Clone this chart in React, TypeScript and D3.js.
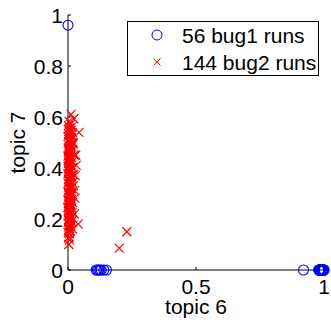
import React from "react";
import * as d3 from "d3";

const xTicks = [0, 0.5, 1];
const xTickLabels = ["0", "0.5", "1"];
const yTicks = [0, 0.2, 0.4, 0.6, 0.8, 1];
const yTickLabels = ["0", "0.2", "0.4", "0.6", "0.8", "1"];

const legendLabels = ["56 bug1 runs", "144 bug2 runs"];

// bug1 runs (blue circles) [topic6, topic7]
const bug1: [number, number][] = [
  [0.0, 0.96],
  [0.11, 0], [0.115, 0], [0.12, 0], [0.125, 0], [0.13, 0], [0.14, 0], [0.15, 0],
  [0.92, 0],
  [0.98, 0], [0.982, 0], [0.984, 0], [0.985, 0], [0.986, 0], [0.987, 0], [0.988, 0],
  [0.989, 0], [0.99, 0], [0.991, 0], [0.992, 0], [0.993, 0], [0.994, 0], [0.995, 0],
  [0.996, 0], [0.997, 0], [0.998, 0], [0.999, 0], [1.0, 0], [0.983, 0], [0.9905, 0],
  [0.9915, 0], [0.9925, 0], [0.9935, 0], [0.9945, 0], [0.9955, 0], [0.9965, 0], [0.9975, 0],
  [0.9985, 0], [0.9995, 0], [0.981, 0], [0.9865, 0], [0.9875, 0], [0.9885, 0], [0.9895, 0],
  [0.9855, 0], [0.9845, 0], [0.9835, 0], [0.9825, 0], [0.9815, 0], [0.9805, 0], [0.997, 0],
  [0.994, 0], [0.991, 0], [0.988, 0], [0.985, 0],
];

// bug2 runs (red crosses) [topic6, topic7]
const bug2: [number, number][] = [
  [0.004,0.583],[0.010,0.571],[0.002,0.566],[0.015,0.561],[0.007,0.557],[0.001,0.552],[0.012,0.548],[0.005,0.543],[0.018,0.538],[0.003,0.533],
  [0.009,0.529],[0.000,0.524],[0.014,0.519],[0.006,0.514],[0.011,0.509],[0.002,0.503],[0.008,0.498],[0.020,0.494],[0.004,0.489],[0.013,0.483],
  [0.001,0.478],[0.007,0.474],[0.016,0.469],[0.003,0.465],[0.010,0.460],[0.005,0.455],[0.024,0.451],[0.000,0.447],[0.012,0.442],[0.006,0.437],
  [0.009,0.433],[0.002,0.428],[0.015,0.424],[0.004,0.419],[0.011,0.414],[0.007,0.410],[0.001,0.405],[0.019,0.401],[0.005,0.396],[0.013,0.392],
  [0.003,0.387],[0.008,0.383],[0.000,0.378],[0.022,0.374],[0.010,0.369],[0.006,0.365],[0.014,0.360],[0.002,0.356],[0.009,0.351],[0.004,0.347],
  [0.017,0.342],[0.001,0.338],[0.011,0.333],[0.007,0.329],[0.003,0.325],[0.012,0.320],[0.005,0.316],[0.026,0.311],[0.000,0.307],[0.009,0.303],
  [0.015,0.298],[0.004,0.294],[0.010,0.290],[0.002,0.285],[0.007,0.281],[0.013,0.277],[0.001,0.272],[0.006,0.268],[0.018,0.264],[0.003,0.259],
  [0.011,0.255],[0.008,0.251],[0.000,0.246],[0.014,0.242],[0.005,0.238],[0.002,0.233],[0.010,0.229],[0.016,0.225],[0.004,0.220],[0.007,0.216],
  [0.001,0.212],[0.012,0.207],[0.006,0.203],[0.009,0.198],[0.003,0.194],[0.014,0.190],[0.000,0.185],[0.008,0.181],[0.005,0.176],[0.011,0.172],
  [0.002,0.167],[0.007,0.162],[0.004,0.157],[0.010,0.152],[0.001,0.147],[0.006,0.142],
  [0.008,0.545],[0.003,0.512],[0.012,0.487],[0.006,0.462],[0.001,0.438],[0.009,0.413],[0.004,0.389],[0.014,0.364],[0.002,0.340],[0.007,0.315],
  [0.011,0.291],[0.005,0.266],[0.000,0.244],[0.010,0.218],[0.003,0.196],[0.008,0.178],[0.013,0.531],[0.005,0.505],[0.002,0.472],[0.009,0.448],
  [0.006,0.421],[0.001,0.397],[0.012,0.372],[0.004,0.349],[0.008,0.322],[0.003,0.300],[0.010,0.276],[0.006,0.253],[0.001,0.230],[0.015,0.206],
  [0.200,0.086],[0.230,0.150],[0.012,0.610],[0.023,0.593],[0.043,0.540],[0.040,0.180],[0.027,0.282],[0.005,0.130],[0.003,0.100],[0.006,0.118],
  [0.030,0.450],[0.028,0.370],[0.020,0.500],[0.025,0.220],[0.018,0.160],[0.002,0.125],[0.032,0.410],[0.021,0.330],
];

const W = 331;
const H = 320;
const x0 = 68, x1 = 324, y0 = 270, y1 = 15;
const font = "'Liberation Sans', Arial, sans-serif";
const fs = 21;

export default function App() {
  const x = d3.scaleLinear().domain([0, 1]).range([x0, x1]);
  const y = d3.scaleLinear().domain([0, 1]).range([y0, y1]);
  const cs = 4.5;
  return (
    <svg width={W} height={H} style={{ position: "absolute", left: 0, top: 0, background: "#fff" }} fontFamily={font}>
      <rect x={0} y={0} width={W} height={H} fill="#fff" />
      {/* axes */}
      <line x1={x0} x2={x0} y1={y1} y2={y0} stroke="#000" strokeWidth={1} />
      <line x1={x0} x2={x1} y1={y0} y2={y0} stroke="#000" strokeWidth={1} />
      {yTicks.map((t, i) => (
        <g key={"y" + i}>
          <line x1={x0} x2={x0 + 3} y1={y(t)} y2={y(t)} stroke="#000" />
          <text x={x0 - 5} y={y(t)} dy="0.36em" textAnchor="end" fontSize={fs}>{yTickLabels[i]}</text>
        </g>
      ))}
      {xTicks.map((t, i) => (
        <g key={"x" + i}>
          <line x1={x(t)} x2={x(t)} y1={y0} y2={y0 - 3} stroke="#000" />
          <text x={x(t)} y={294} textAnchor="middle" fontSize={fs}>{xTickLabels[i]}</text>
        </g>
      ))}
      <text x={(x0 + x1) / 2} y={314} textAnchor="middle" fontSize={fs}>topic 6</text>
      <text transform={`translate(25,${(y0 + y1) / 2}) rotate(-90)`} textAnchor="middle" fontSize={fs}>topic 7</text>
      {/* data */}
      {bug1.map((d, i) => (
        <circle key={"b" + i} cx={x(d[0])} cy={y(d[1])} r={5} fill="none" stroke="#0000ff" strokeWidth={1.1} />
      ))}
      {bug2.map((d, i) => (
        <path key={"r" + i} d={`M${x(d[0]) - cs},${y(d[1]) - cs}L${x(d[0]) + cs},${y(d[1]) + cs}M${x(d[0]) - cs},${y(d[1]) + cs}L${x(d[0]) + cs},${y(d[1]) - cs}`} stroke="#ff0000" strokeWidth={1.2} fill="none" />
      ))}
      {/* legend */}
      <rect x={127.5} y={21.5} width={191} height={54} fill="#fff" stroke="#000" strokeWidth={1} />
      <circle cx={157} cy={35} r={5} fill="none" stroke="#0000ff" />
      <path d={`M${157 - 3.5},${62 - 3.5}L${157 + 3.5},${62 + 3.5}M${157 - 3.5},${62 + 3.5}L${157 + 3.5},${62 - 3.5}`} stroke="#ff0000" />
      <text x={182} y={35} dy="0.36em" fontSize={fs}>{legendLabels[0]}</text>
      <text x={182} y={62} dy="0.36em" fontSize={fs}>{legendLabels[1]}</text>
    </svg>
  );
}
